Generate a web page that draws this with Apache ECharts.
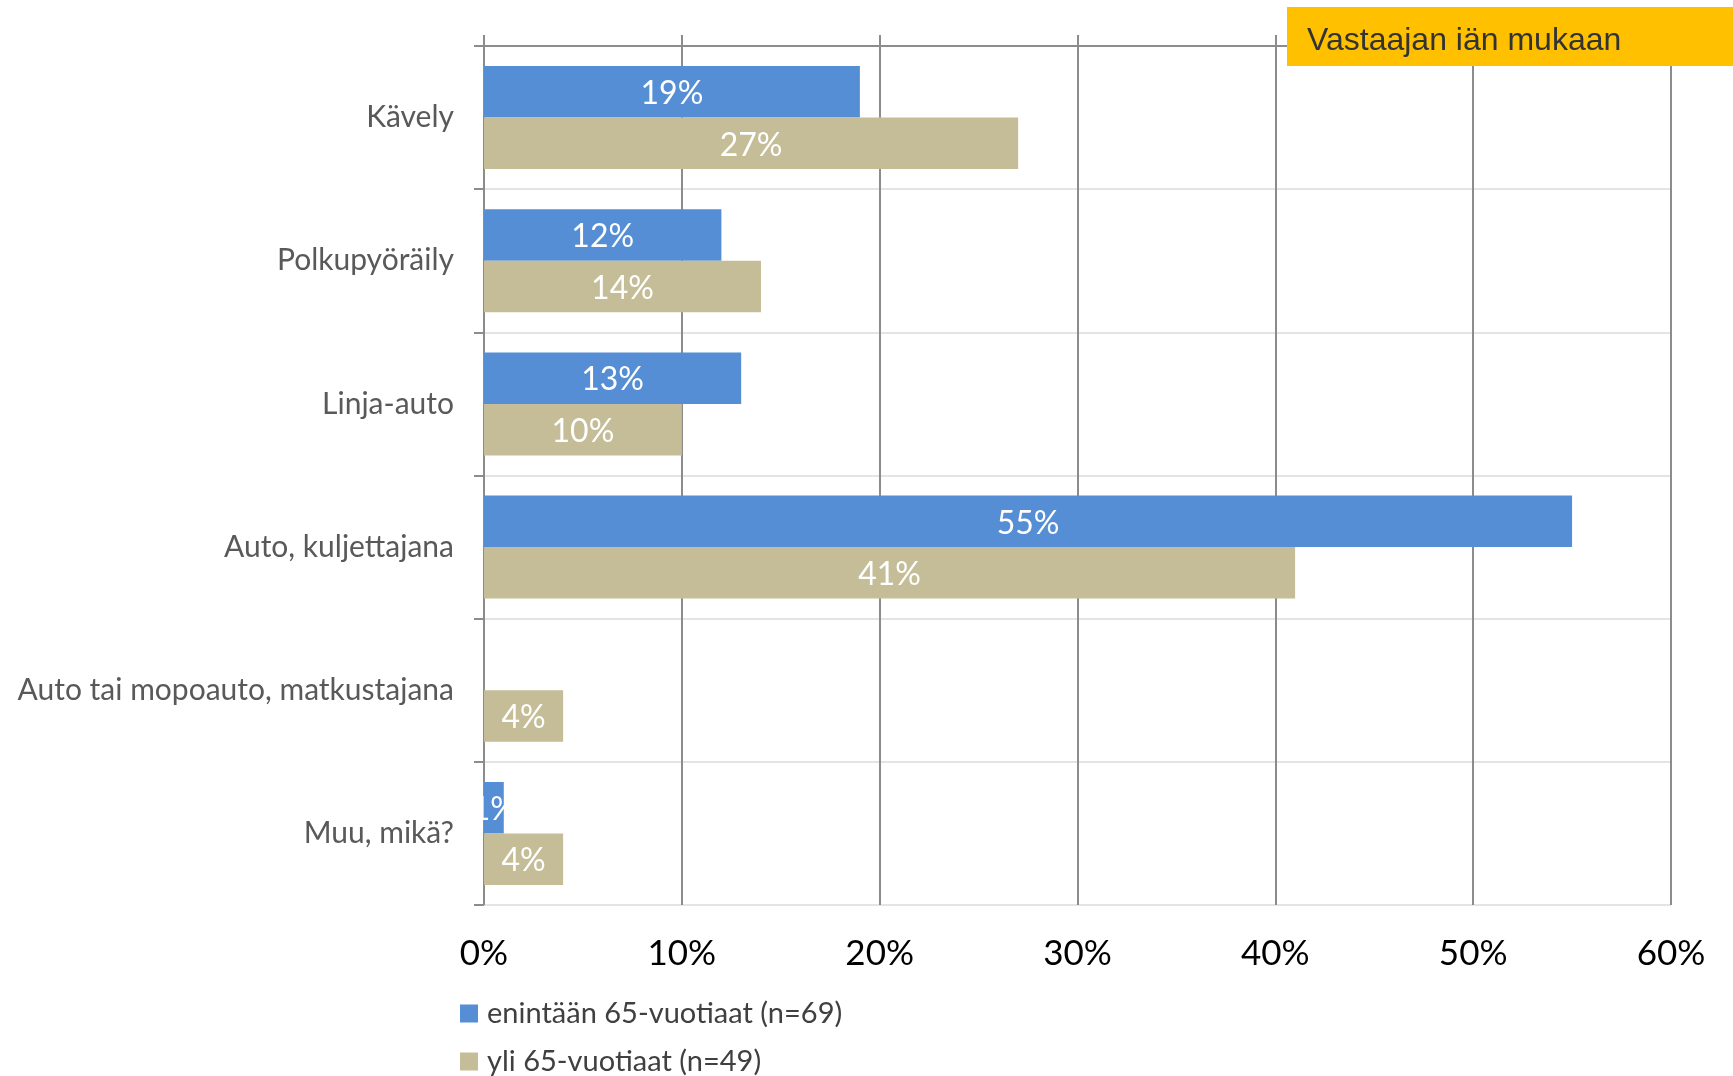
<!DOCTYPE html>
<html>
<head>
<meta charset="utf-8">
<script src="https://cdn.jsdelivr.net/npm/echarts@6/dist/echarts.min.js"></script>
<style>
html,body{margin:0;padding:0;background:#fff;}
#c{width:1733px;height:1076px;}
</style>
</head>
<body>
<div id="c"></div>
<script>
const categories = ['Kävely', 'Polkupyöräily', 'Linja-auto', 'Auto, kuljettajana', 'Auto tai mopoauto, matkustajana', 'Muu, mikä?'];
const seriesNames = ['enintään 65-vuotiaat (n=69)', 'yli 65-vuotiaat (n=49)'];
const valuesUnder65 = [19, 12, 13, 55, null, 1];
const valuesOver65 = [27, 14, 10, 41, 4, 4];
const xTicks = [0, 10, 20, 30, 40, 50, 60];
const titleText = 'Vastaajan iän mukaan';

const FONT = 'Lato';
const chart = echarts.init(document.getElementById('c'), null, {renderer: 'canvas'});

const labelStyle = {
  show: true,
  position: 'inside',
  color: '#ffffff',
  fontFamily: FONT,
  fontSize: 32,
  offset: [0, 2],
  formatter: p => (p.value == null ? '' : p.value + '%')
};

const legendBase = {
  orient: 'vertical',
  left: 460,
  padding: 0,
  itemWidth: 18,
  itemHeight: 18,
  icon: 'rect',
  textStyle: {color: '#404040', fontFamily: FONT, fontSize: 29, padding: [0, 0, 0, 4]}
};

chart.setOption({
  backgroundColor: '#ffffff',
  animation: false,
  grid: [
    {left: 484, right: 62, top: 46, bottom: 171, containLabel: false},
    {left: 484, right: 62, top: 35, bottom: 171, containLabel: false}
  ],
  xAxis: [
    {
      type: 'value', gridIndex: 0, min: xTicks[0], max: xTicks[xTicks.length - 1], interval: 10,
      axisLine: {show: false}, axisTick: {show: false}, splitLine: {show: false},
      axisLabel: {formatter: '{value}%', color: '#000000', fontFamily: FONT, fontSize: 35, margin: 31}
    },
    {
      type: 'value', gridIndex: 1, min: xTicks[0], max: xTicks[xTicks.length - 1], interval: 10, z: 1,
      axisLine: {show: false}, axisTick: {show: false}, axisLabel: {show: false},
      splitLine: {show: true, lineStyle: {color: '#8c8c8c', width: 2}}
    },
    {
      type: 'value', gridIndex: 0, position: 'top', min: xTicks[0], max: xTicks[xTicks.length - 1], interval: 10, z: 1,
      axisLine: {show: true, lineStyle: {color: '#8c8c8c', width: 2}},
      axisTick: {show: false}, axisLabel: {show: false}, splitLine: {show: false}
    }
  ],
  yAxis: [
    {
      type: 'category', gridIndex: 0, data: categories, inverse: true,
      axisLine: {show: false},
      axisTick: {show: true, length: 10, lineStyle: {color: '#8c8c8c', width: 2}},
      splitLine: {show: true, lineStyle: {color: '#e4e4e4', width: 2}},
      axisLabel: {color: '#595959', fontFamily: FONT, fontSize: 30, margin: 30}
    },
    {
      type: 'value', gridIndex: 1, min: 0, max: 1, show: false
    }
  ],
  legend: [
    Object.assign({}, legendBase, {top: 999, data: [seriesNames[0]]}),
    Object.assign({}, legendBase, {top: 1047, data: [seriesNames[1]]})
  ],
  series: [
    {
      name: seriesNames[0], type: 'bar', xAxisIndex: 0, yAxisIndex: 0,
      data: valuesUnder65, barGap: '0%', barCategoryGap: '28%',
      itemStyle: {color: '#558ED5'}, label: labelStyle
    },
    {
      name: seriesNames[1], type: 'bar', xAxisIndex: 0, yAxisIndex: 0,
      data: valuesOver65, barGap: '0%', barCategoryGap: '28%',
      itemStyle: {color: '#C4BD97'}, label: labelStyle
    }
  ],
  graphic: [
    {
      type: 'rect', left: 1287, top: 7, z: 100, zlevel: 1,
      shape: {x: 0, y: 0, width: 446, height: 59}, style: {fill: '#FFC000'}
    },
    {
      type: 'text', left: 1307, top: 25, z: 101, zlevel: 1,
      style: {text: titleText, fill: '#333333', font: '32px "Liberation Sans", Arial, sans-serif'}
    }
  ]
});
</script>
</body>
</html>
